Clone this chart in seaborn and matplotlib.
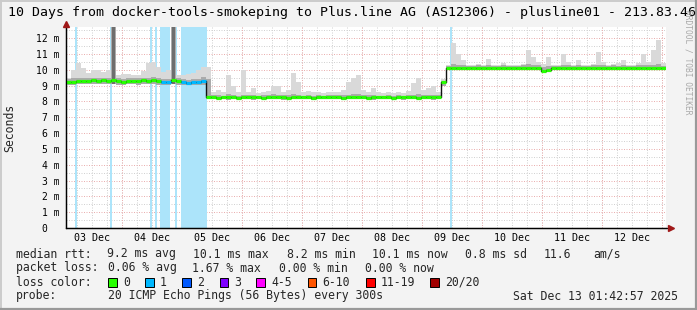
import numpy as np
import pandas as pd
import matplotlib
matplotlib.use("Agg")
import matplotlib.pyplot as plt
import matplotlib.dates as mdates
import matplotlib.ticker as mticker
from matplotlib.patches import Rectangle
from matplotlib.lines import Line2D
import seaborn as sns

# ---------------- data ----------------
title = "10 Days from docker-tools-smokeping to Plus.line AG (AS12306) - plusline01 - 213.83.46"
start_time = "2025-12-03 01:43"
end_time = "2025-12-13 01:43"
bin_hours = 2

median_ms = [
    9.22, 9.24, 9.26, 9.28, 9.28, 9.33, 9.31, 9.33, 9.30, 9.36,
    9.27, 9.25, 9.28, 9.30, 9.28, 9.32, 9.30, 9.33, 9.29, 9.24,
    9.25, 9.37, 9.27, 9.20, 9.19, 9.21, 9.20, 9.27,
    8.27, 8.25, 8.24, 8.25, 8.26, 8.25, 8.24, 8.25, 8.25, 8.26,
    8.25, 8.24, 8.25, 8.25, 8.26, 8.25, 8.24, 8.25, 8.26, 8.25,
    8.25, 8.24, 8.25, 8.25, 8.26, 8.25, 8.25, 8.24, 8.25, 8.26,
    8.25, 8.25, 8.24, 8.25, 8.26, 8.25, 8.25, 8.24, 8.25, 8.25,
    8.26, 8.25, 8.24, 8.25, 8.25, 8.26, 8.25,
    9.20,
    10.12, 10.13, 10.12, 10.12, 10.11, 10.12, 10.13, 10.12, 10.12, 10.12,
    10.11, 10.12, 10.12, 10.13, 10.12, 10.12, 10.12, 10.11, 10.10, 9.95,
    9.97, 10.10, 10.12, 10.12, 10.13, 10.12, 10.12, 10.11, 10.12, 10.12,
    10.12, 10.13, 10.12, 10.12, 10.11, 10.12, 10.12, 10.12, 10.13, 10.12,
    10.12, 10.12, 10.11, 10.12,
]

median_loss = [
    0, 0, 0, 0, 0, 0, 0, 0, 0, 0, 0, 0, 0, 0, 0, 0, 0, 0, 0, 1,
    1, 0, 0, 1, 1, 1, 1, 1, 0, 0, 0, 0, 0, 0, 0, 0, 0, 0, 0, 0,
    0, 0, 0, 0, 0, 0, 0, 0, 0, 0, 0, 0, 0, 0, 0, 0, 0, 0, 0, 0,
    0, 0, 0, 0, 0, 0, 0, 0, 0, 0, 0, 0, 0, 0, 0, 0, 0, 0, 0, 0,
    0, 0, 0, 0, 0, 0, 0, 0, 0, 0, 0, 0, 0, 0, 0, 0, 0, 0, 0, 0,
    0, 0, 0, 0, 0, 0, 0, 0, 0, 0, 0, 0, 0, 0, 0, 0, 0, 0, 0, 0,
]

smoke_lo_ms = [
    9.05, 9.06, 9.08, 9.08, 9.08, 9.10, 9.10, 9.10, 9.08, 9.10,
    9.06, 9.05, 9.08, 9.08, 9.06, 9.10, 9.08, 9.10, 9.06, 9.04,
    9.05, 9.10, 9.05, 9.02, 9.01, 9.02, 9.02, 9.05,
    8.12, 8.13, 8.12, 8.12, 8.11, 8.12, 8.13, 8.12, 8.12, 8.11,
    8.12, 8.12, 8.13, 8.12, 8.12, 8.11, 8.12, 8.12, 8.13, 8.12,
    8.12, 8.11, 8.12, 8.12, 8.13, 8.12, 8.12, 8.11, 8.12, 8.12,
    8.13, 8.12, 8.12, 8.11, 8.12, 8.12, 8.13, 8.12, 8.12, 8.11,
    8.12, 8.12, 8.13, 8.12, 8.12, 8.11, 8.12,
    8.95,
    10.00, 10.01, 10.00, 10.00, 9.99, 10.00, 10.01, 10.00, 10.00, 10.00,
    9.99, 10.00, 10.00, 10.01, 10.00, 10.00, 10.00, 9.99, 9.98, 9.85,
    9.88, 9.98, 10.00, 10.00, 10.01, 10.00, 10.00, 9.99, 10.00, 10.00,
    10.00, 10.01, 10.00, 10.00, 9.99, 10.00, 10.00, 10.00, 10.01, 10.00,
    10.00, 10.00, 9.99, 10.00,
]

smoke_mid_ms = [
    9.40, 9.45, 9.50, 9.45, 9.45, 9.50, 9.48, 9.50, 9.48, 12.90,
    9.45, 9.42, 9.45, 9.45, 9.45, 9.50, 9.50, 9.52, 9.45, 9.40,
    9.42, 12.90, 9.45, 9.40, 9.38, 9.40, 9.42, 9.55,
    9.40, 8.38, 8.40, 8.36, 8.45, 8.40, 8.36, 8.42, 8.38, 8.40,
    8.36, 8.38, 8.40, 8.45, 8.42, 8.38, 8.40, 8.48, 8.42, 8.36,
    8.38, 8.36, 8.38, 8.36, 8.38, 8.40, 8.38, 8.40, 8.42, 8.45,
    8.48, 8.40, 8.38, 8.40, 8.36, 8.36, 8.38, 8.36, 8.38, 8.36,
    8.40, 8.42, 8.45, 8.40, 8.40, 8.42, 8.38,
    9.30,
    10.25, 10.35, 10.30, 10.28, 10.25, 10.25, 10.27, 10.25, 10.30, 10.25,
    10.25, 10.28, 10.25, 10.25, 10.25, 10.27, 10.35, 10.30, 10.28, 10.20,
    10.25, 10.25, 10.25, 10.30, 10.27, 10.25, 10.28, 10.25, 10.25, 10.27,
    10.32, 10.28, 10.25, 10.27, 10.25, 10.28, 10.25, 10.25, 10.27, 10.30,
    10.27, 10.32, 10.35, 10.25,
]

smoke_hi_ms = [
    9.50, 10.00, 10.40, 10.10, 9.80, 10.00, 10.00, 9.87, 10.00, 12.90,
    9.67, 9.70, 9.70, 9.65, 9.67, 9.90, 10.40, 10.50, 10.20, 9.87,
    10.00, 12.90, 9.67, 9.65, 9.70, 9.80, 10.00, 10.20,
    10.20, 8.60, 8.70, 8.60, 9.67, 9.00, 8.60, 10.00, 8.60, 8.85,
    8.55, 8.60, 8.65, 9.00, 8.95, 8.60, 8.70, 9.77, 9.20, 8.60,
    8.65, 8.60, 8.60, 8.55, 8.60, 8.60, 8.60, 8.70, 9.24, 9.47,
    9.67, 8.70, 8.60, 8.82, 8.60, 8.55, 8.60, 8.55, 8.60, 8.55,
    8.65, 9.14, 9.47, 8.70, 8.82, 8.97, 8.60,
    9.40,
    10.30, 11.67, 11.00, 10.60, 10.30, 10.30, 10.35, 10.30, 10.70, 10.30,
    10.30, 10.44, 10.30, 10.30, 10.30, 10.35, 11.24, 10.80, 10.50, 10.35,
    10.78, 10.30, 10.30, 11.00, 10.50, 10.30, 10.60, 10.30, 10.30, 10.35,
    11.14, 10.50, 10.30, 10.35, 10.40, 10.60, 10.30, 10.30, 10.40, 10.97,
    10.50, 11.24, 11.87, 10.40,
]

loss_start = ["2025-12-03 05:20", "2025-12-03 19:20", "2025-12-04 11:20",
              "2025-12-04 13:20", "2025-12-04 15:20", "2025-12-04 21:20",
              "2025-12-04 23:37", "2025-12-09 11:20"]
loss_end = ["2025-12-03 06:05", "2025-12-03 20:05", "2025-12-04 12:05",
            "2025-12-04 14:05", "2025-12-04 19:20", "2025-12-04 22:05",
            "2025-12-05 10:01", "2025-12-09 12:05"]
loss_level = [1, 1, 1, 1, 1, 1, 1, 1]

xtick_days = ["2025-12-03", "2025-12-04", "2025-12-05", "2025-12-06", "2025-12-07",
              "2025-12-08", "2025-12-09", "2025-12-10", "2025-12-11", "2025-12-12"]
xtick_labels = ["03 Dec", "04 Dec", "05 Dec", "06 Dec", "07 Dec",
                "08 Dec", "09 Dec", "10 Dec", "11 Dec", "12 Dec"]
ytick_values = [0, 1, 2, 3, 4, 5, 6, 7, 8, 9, 10, 11, 12]
ytick_labels = ["0  ", "1 m", "2 m", "3 m", "4 m", "5 m", "6 m", "7 m", "8 m",
                "9 m", "10 m", "11 m", "12 m"]

loss_names = ["0", "1", "2", "3", "4-5", "6-10", "11-19", "20/20"]
loss_colors = ["#26ff00", "#00b8ff", "#0059ff", "#7e00ff", "#ff00ff",
               "#ff5500", "#ff0000", "#a10000"]
band_colors = {1: "#ace4fa"}

stats_rtt = ["median rtt:", "9.2 ms avg", "10.1 ms max", "8.2 ms min",
             "10.1 ms now", "0.8 ms sd", "11.6", "am/s"]
stats_loss = ["packet loss:", "0.06 % avg", "1.67 % max", "0.00 % min", "0.00 % now"]
probe_text = ["probe:", "20 ICMP Echo Pings (56 Bytes) every 300s", "Sat Dec 13 01:42:57 2025"]

# ---------------- figure ----------------
sns.set_theme(style="white")
plt.rcParams["font.family"] = ["DejaVu Sans Mono"]

W, H = 697, 310
fig = plt.figure(figsize=(W / 100, H / 100), dpi=100, facecolor="#f3f3f3")
ax = fig.add_axes([66 / W, 82 / H, 600 / W, 201 / H])
ax.set_facecolor("white")

def fx(px):
    return px / W

def fy(py):
    return 1 - py / H

t0 = pd.Timestamp(start_time)
t1 = pd.Timestamp(end_time)
times = pd.date_range(t0, periods=len(median_ms), freq=f"{bin_hours}h")
xnum = mdates.date2num(times)
w = bin_hours / 24.0
lo = np.array(smoke_lo_ms)
mid = np.array(smoke_mid_ms)
hi = np.array(smoke_hi_ms)
med = np.array(median_ms)

# loss background bands
for s, e, lvl in zip(loss_start, loss_end, loss_level):
    ax.axvspan(mdates.date2num(pd.Timestamp(s)), mdates.date2num(pd.Timestamp(e)),
               color=band_colors[lvl], lw=0, zorder=1)

# smoke
ax.bar(xnum, hi - lo, bottom=lo, width=w, align="edge", color="#d9d9d9", lw=0, zorder=2)
ax.bar(xnum, mid - lo, bottom=lo, width=w, align="edge", color="#ababab", lw=0, zorder=3)
tall = mid > 12.5
ax.bar(xnum[tall] + w * 0.5, (mid - lo)[tall], bottom=lo[tall], width=w * 0.45,
       align="center", color="#6e6e6e", lw=0, zorder=3.5)

# median line (black step + loss-colored segments)
df = pd.DataFrame({"t": np.append(xnum, xnum[-1] + w), "ms": np.append(med, med[-1])})
sns.lineplot(data=df, x="t", y="ms", drawstyle="steps-post", color="#111111",
             lw=1.0, ax=ax, zorder=4, legend=False)
ax.hlines(med, xnum, xnum + w, colors=[loss_colors[l] for l in median_loss],
          lw=2.3, zorder=5)

ax.set_xlim(mdates.date2num(t0), mdates.date2num(t1))
ax.set_ylim(0, 12.7)
ax.set_xlabel("")
ax.set_ylabel("")

# x ticks: labels at noon
xt = [mdates.date2num(pd.Timestamp(d) + pd.Timedelta(hours=12)) for d in xtick_days]
ax.set_xticks(xt)
ax.set_xticklabels(xtick_labels, fontsize=7.2)
ax.tick_params(axis="x", which="major", length=0, pad=3.8, colors="black")
six_hours = mdates.date2num(pd.date_range(t0.ceil("6h"), t1, freq="6h"))
ax.set_xticks(six_hours, minor=True)
ax.xaxis.remove_overlapping_locs = False
ax.tick_params(axis="x", which="minor", length=0)

ax.set_yticks(ytick_values)
ax.set_yticklabels(ytick_labels, fontsize=7.0)
ax.yaxis.set_minor_locator(mticker.MultipleLocator(0.5))
ax.tick_params(axis="y", which="major", length=2.5, width=0.7, pad=2.0, colors="black")
ax.tick_params(axis="y", which="minor", length=0)

dot = (0, (1, 1.5))
ax.set_axisbelow(True)
ax.grid(False)
ax.grid(which="minor", axis="both", color="#d2d2d2", ls=dot, lw=0.72)
ax.grid(which="major", axis="y", color="#eab0b0", ls=dot, lw=0.72)
ax.xaxis.grid(False, which="major")
midnights = mdates.date2num(pd.date_range(t0.ceil("1D"), t1, freq="1D"))
ax.vlines(midnights, 0, 1, transform=ax.get_xaxis_transform(), colors="#eab0b0",
          linestyles=dot, lw=0.72, zorder=0.8)

for sp in ["top", "right"]:
    ax.spines[sp].set_visible(False)
for sp in ["left", "bottom"]:
    ax.spines[sp].set_color("black")
    ax.spines[sp].set_linewidth(0.9)

# axis extensions and arrows
fig.add_artist(Line2D([fx(66), fx(66)], [fy(228), fy(24)], color="black", lw=0.9))
fig.add_artist(Line2D([fx(66), fx(670)], [fy(228), fy(228)], color="black", lw=0.9))
fig.add_artist(Line2D([fx(66)], [fy(23.5)], marker="^", ms=4.2, color="#a01818", lw=0))
fig.add_artist(Line2D([fx(671)], [fy(228)], marker=">", ms=4.2, color="#a01818", lw=0))

# texts
fig.text(fx(8), fy(12.5), title, fontsize=9.5, ha="left", va="center", color="black")
fig.text(fx(10), fy(128), "Seconds", fontsize=8.3, rotation=90, ha="center", va="center")
fig.text(fx(688), fy(62), "RRDTOOL / TOBI OETIKER", fontsize=5.7, rotation=270,
         ha="center", va="center", color="#a8a8a8")

fs = 8.3
rtt_x = [16, 107, 193, 287, 372, 465, 544, 593]
for txt, x in zip(stats_rtt, rtt_x):
    fig.text(fx(x), fy(254), txt, fontsize=fs, ha="left", va="center")
loss_x = [16, 107.5, 192, 279, 365]
for txt, x in zip(stats_loss, loss_x):
    fig.text(fx(x), fy(268), txt, fontsize=fs, ha="left", va="center")
fig.text(fx(16), fy(282), "loss color:", fontsize=fs, ha="left", va="center")
sw_x = [108, 145, 182, 219.5, 256, 307.5, 366, 430]
for name, c, x in zip(loss_names, loss_colors, sw_x):
    fig.add_artist(Rectangle((fx(x), fy(286.5)), 8.5 / W, 8.5 / H, transform=fig.transFigure,
                             facecolor=c, edgecolor="black", lw=0.7))
    fig.text(fx(x + 15), fy(282), name, fontsize=fs, ha="left", va="center")
probe_x = [16, 107.5, 513]
for txt, x in zip(probe_text, probe_x):
    fig.text(fx(x), fy(296), txt, fontsize=fs, ha="left", va="center")

# frame shading
fig.add_artist(Line2D([0, 1], [fy(0.5), fy(0.5)], color="#cbcbcb", lw=1.4))
fig.add_artist(Line2D([fx(0.5), fx(0.5)], [0, 1], color="#cbcbcb", lw=1.4))
fig.add_artist(Line2D([0, 1], [fy(309), fy(309)], color="#999999", lw=1.6))
fig.add_artist(Line2D([fx(696), fx(696)], [0, 1], color="#999999", lw=1.6))

fig.savefig("out.png", dpi=100, facecolor=fig.get_facecolor())
